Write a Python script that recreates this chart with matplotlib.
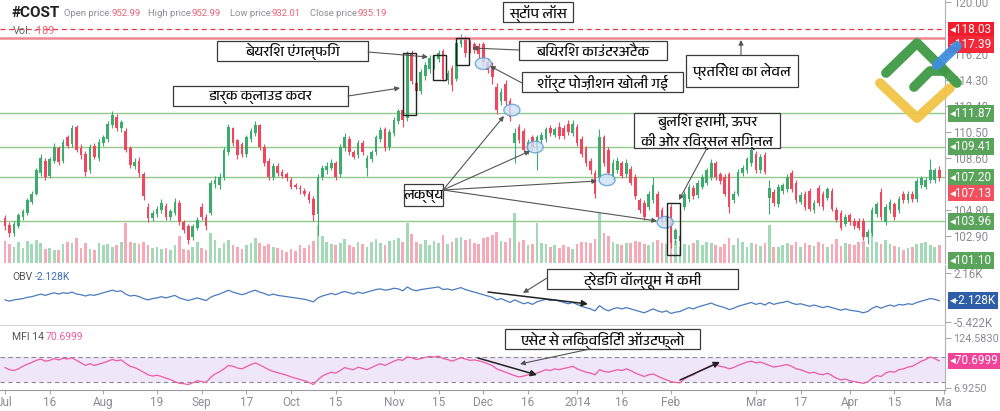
import matplotlib
matplotlib.use('Agg')
import matplotlib.pyplot as plt
import matplotlib.transforms as mtransforms
from matplotlib import font_manager
from matplotlib.patches import Rectangle, Ellipse

# ---- data (daily #COST, Jul 2013 - Apr 2014) ----
opens = [
    104.2, 103.7, 103.1, 103.6, 104.3, 104.6, 105.4, 106.0, 107.5, 108.4,
    107.3, 108.4, 109.3, 108.4, 110.1, 109.6, 110.9, 109.3, 108.9, 107.7,
    109.5, 108.6, 109.7, 110.0, 111.0, 111.6, 110.8, 110.6, 109.3, 108.0,
    108.4, 107.4, 105.0, 104.2, 104.5, 104.8, 105.1, 104.3, 104.6, 105.3,
    103.9, 103.6, 102.8, 103.5, 105.0, 104.3, 104.6, 106.7, 106.6, 107.2,
    109.0, 110.8, 109.9, 109.6, 108.9, 110.0, 110.4, 111.0, 109.4, 108.4,
    107.2, 108.0, 107.6, 107.4, 107.0, 106.6, 106.4, 106.2, 106.0, 105.6,
    104.5, 107.2, 107.7, 107.9, 108.2, 107.4, 109.3, 110.0, 109.0, 108.8,
    109.7, 107.9, 108.5, 109.0, 110.0, 110.7, 109.4, 110.4, 111.3, 112.1,
    111.5, 116.3, 114.1, 113.5, 114.6, 115.1, 115.3, 115.8, 116.4, 114.3,
    115.2, 114.4, 116.9, 117.3, 117.0, 116.9, 116.8, 116.9, 115.6, 115.3,
    113.8, 112.8, 114.0, 112.8, 109.7, 110.9, 110.6, 109.2, 110.1, 109.2,
    109.9, 110.0, 110.8, 110.3, 110.9, 110.8, 111.1, 110.4, 110.9, 110.0,
    109.3, 108.4, 107.5, 107.2, 110.1, 109.2, 107.2, 107.7, 108.2, 107.4,
    107.8, 107.2, 105.5, 105.3, 105.0, 105.5, 106.0, 104.8, 103.9, 105.0,
    102.7, 102.5, 105.0, 105.6, 106.4, 105.9, 106.5, 106.8, 107.2, 108.2,
    107.4, 107.2, 107.4, 105.5, 106.0, 107.5, 107.7, 108.2, 108.9, 107.7,
    108.8, 105.7, 106.1, 105.2, 106.2, 106.3, 107.5, 106.8, 105.4, 106.0,
    106.2, 104.8, 106.4, 106.0, 105.7, 106.2, 104.8, 104.6, 103.8, 104.4,
    104.0, 104.0, 104.0, 102.8, 103.1, 104.5, 106.1, 103.9, 104.8, 105.2,
    104.8, 106.0, 105.5, 106.0, 105.6, 106.6, 106.5, 107.0, 107.0, 107.7]
closes = [
    103.6, 103.1, 103.8, 104.4, 104.7, 105.5, 106.0, 107.7, 108.6, 107.2,
    108.5, 109.4, 108.3, 109.8, 109.5, 110.8, 109.2, 108.8, 107.6, 109.4,
    108.7, 109.8, 110.1, 111.1, 111.75, 110.8, 111.2, 109.2, 108.1, 108.3,
    107.5, 105.8, 104.2, 104.6, 104.9, 105.3, 104.3, 104.7, 105.4, 103.9,
    103.3, 102.6, 103.6, 104.1, 104.3, 103.6, 106.8, 107.0, 107.2, 109.2,
    110.9, 109.7, 108.8, 108.9, 110.1, 110.6, 111.0, 109.4, 108.2, 107.2,
    108.0, 107.5, 107.3, 107.1, 106.5, 106.5, 106.3, 106.0, 105.5, 104.4,
    107.2, 107.9, 108.0, 108.2, 107.2, 109.4, 110.1, 109.0, 108.7, 109.7,
    109.0, 108.6, 109.0, 110.1, 110.65, 109.3, 110.5, 111.4, 112.0, 111.4,
    116.2, 114.2, 113.5, 114.9, 115.4, 115.9, 115.9, 116.3, 114.4, 114.8,
    113.9, 117.0, 117.3, 116.3, 116.6, 116.5, 116.2, 115.6, 115.0, 114.5,
    112.1, 113.4, 112.8, 111.6, 110.4, 109.9, 109.2, 109.8, 109.4, 110.1,
    110.3, 110.7, 110.4, 110.7, 110.2, 110.2, 110.5, 111.1, 109.7, 108.9,
    108.2, 107.7, 106.0, 110.1, 108.2, 107.5, 108.2, 108.4, 107.3, 108.2,
    106.8, 105.8, 104.8, 104.3, 106.0, 106.6, 104.3, 103.9, 104.3, 102.4,
    103.3, 102.9, 106.0, 106.5, 105.8, 106.8, 107.2, 107.7, 108.2, 107.2,
    106.9, 106.0, 105.0, 106.0, 107.6, 107.9, 108.5, 109.2, 107.7, 108.7,
    107.6, 106.4, 105.3, 106.5, 106.6, 107.2, 106.3, 105.5, 105.9, 105.0,
    104.9, 105.3, 105.3, 105.0, 106.3, 104.9, 104.1, 103.5, 104.3, 103.9,
    103.6, 103.5, 102.8, 103.2, 104.8, 105.2, 104.3, 105.0, 105.4, 104.3,
    105.6, 105.5, 106.0, 105.6, 106.9, 107.1, 107.0, 107.7, 107.7, 107.13]
highs = [
    104.4, 103.9, 104.0, 104.6, 104.9, 105.7, 106.2, 107.9, 108.9, 108.6,
    108.7, 109.7, 109.5, 110.0, 110.3, 111.0, 111.0, 109.6, 109.1, 109.6,
    109.7, 110.0, 110.3, 111.3, 112.0, 111.8, 111.4, 110.8, 109.5, 108.6,
    108.7, 107.6, 105.3, 104.8, 105.1, 105.6, 105.3, 104.9, 105.7, 105.5,
    104.1, 103.8, 103.8, 104.3, 105.3, 104.5, 107.0, 107.3, 107.5, 109.4,
    111.1, 110.9, 110.0, 109.8, 110.3, 110.8, 111.3, 111.1, 109.6, 108.6,
    108.2, 108.2, 107.8, 107.6, 107.2, 106.8, 106.6, 106.4, 106.2, 105.8,
    107.4, 108.1, 108.3, 108.5, 108.4, 109.6, 110.4, 110.2, 109.2, 109.9,
    109.9, 108.8, 109.2, 110.3, 110.9, 110.9, 110.7, 111.6, 112.2, 112.3,
    116.4, 116.5, 114.4, 115.1, 115.6, 116.1, 116.1, 116.5, 116.6, 115.0,
    115.4, 117.2, 117.7, 117.5, 117.2, 117.1, 117.0, 117.1, 115.9, 115.6,
    114.1, 113.7, 114.3, 113.0, 110.8, 111.1, 110.8, 110.0, 110.3, 110.3,
    110.5, 110.9, 111.0, 110.9, 111.2, 111.0, 111.4, 111.4, 111.1, 110.2,
    109.5, 108.6, 107.7, 110.7, 110.3, 109.4, 108.5, 108.7, 108.4, 108.5,
    108.0, 107.4, 105.7, 105.5, 106.2, 107.2, 106.2, 105.0, 104.5, 105.2,
    103.5, 103.1, 106.2, 106.7, 106.6, 107.0, 107.4, 107.9, 108.5, 108.4,
    107.6, 107.4, 107.6, 106.2, 107.8, 108.1, 108.7, 109.6, 109.1, 108.9,
    109.0, 107.0, 106.3, 106.7, 106.8, 107.4, 107.7, 107.0, 106.1, 106.2,
    106.4, 105.5, 106.6, 106.2, 106.5, 106.4, 105.0, 104.8, 104.5, 104.6,
    104.2, 104.2, 104.2, 103.4, 105.0, 105.4, 106.4, 105.2, 105.6, 105.4,
    105.8, 106.2, 106.2, 106.2, 107.1, 107.3, 107.2, 108.5, 107.9, 108.0]
lows = [
    103.3, 102.8, 102.9, 103.5, 104.1, 104.4, 105.2, 105.9, 107.3, 107.0,
    107.1, 108.2, 108.1, 108.2, 109.3, 109.4, 109.0, 108.5, 107.3, 107.5,
    108.5, 108.4, 109.5, 109.8, 110.8, 110.6, 110.5, 109.0, 107.9, 107.8,
    107.2, 105.5, 103.9, 104.0, 104.3, 104.6, 104.1, 104.1, 104.4, 103.7,
    103.1, 102.3, 102.6, 103.3, 104.1, 103.3, 104.4, 106.4, 106.3, 107.0,
    108.8, 109.5, 108.5, 108.7, 108.7, 109.8, 110.2, 109.2, 108.0, 107.0,
    107.0, 107.3, 107.1, 106.9, 106.3, 106.3, 106.0, 105.8, 105.3, 104.0,
    103.0, 107.0, 107.4, 107.7, 107.0, 107.2, 109.1, 108.8, 108.5, 108.6,
    108.8, 107.3, 108.3, 108.8, 109.8, 109.1, 109.2, 110.2, 111.1, 110.9,
    111.3, 114.0, 113.2, 113.3, 114.3, 114.8, 115.1, 115.6, 114.2, 114.0,
    113.5, 114.2, 116.7, 116.0, 116.3, 116.3, 115.9, 115.3, 114.8, 114.0,
    111.8, 112.5, 112.5, 111.3, 108.2, 109.7, 109.0, 108.9, 109.2, 107.7,
    109.7, 109.8, 110.2, 110.1, 110.0, 110.0, 110.3, 110.2, 109.5, 108.7,
    108.0, 107.4, 105.7, 106.9, 108.0, 107.3, 107.0, 107.5, 107.1, 107.2,
    106.6, 105.6, 104.6, 104.1, 104.8, 105.3, 104.1, 103.7, 103.6, 102.0,
    102.3, 102.2, 104.8, 105.4, 105.6, 105.7, 106.3, 106.6, 107.0, 107.0,
    106.7, 105.8, 104.6, 105.3, 105.8, 107.3, 107.5, 108.0, 107.5, 107.5,
    107.4, 104.5, 105.1, 105.0, 106.0, 106.1, 106.1, 105.3, 105.2, 104.8,
    104.7, 104.6, 105.1, 104.8, 105.5, 104.7, 103.9, 103.3, 103.6, 103.7,
    103.4, 103.3, 102.6, 102.3, 102.9, 104.3, 104.1, 103.7, 104.6, 104.1,
    104.6, 105.3, 105.3, 105.4, 105.4, 106.4, 106.3, 106.8, 106.8, 106.9]
volumes = [
    3.5, 3.0, 2.6, 3.3, 2.4, 3.5, 3.0, 3.6, 3.2, 2.2,
    2.4, 2.0, 2.1, 3.0, 3.3, 3.2, 3.9, 2.4, 3.1, 2.2,
    2.0, 3.1, 2.8, 3.0, 2.6, 2.9, 3.4, 6.4, 3.4, 3.2,
    3.0, 3.3, 2.8, 2.4, 2.6, 2.2, 2.3, 2.0, 2.9, 4.3,
    2.2, 2.0, 2.6, 3.4, 2.3, 2.0, 4.8, 3.6, 2.4, 3.2,
    3.7, 2.9, 2.5, 2.2, 2.9, 3.1, 4.0, 3.2, 2.7, 3.0,
    2.5, 2.3, 2.0, 1.7, 2.2, 1.9, 2.8, 2.4, 2.9, 3.5,
    6.0, 4.3, 3.4, 3.0, 2.8, 3.2, 3.8, 2.9, 2.6, 3.4,
    3.0, 2.6, 3.3, 3.8, 3.1, 2.8, 3.5, 3.6, 3.9, 3.3,
    6.4, 4.6, 3.3, 3.0, 3.6, 2.8, 3.5, 3.2, 4.5, 3.0,
    3.3, 4.0, 4.2, 3.6, 3.8, 3.2, 3.0, 3.9, 4.2, 4.5,
    4.9, 3.5, 3.3, 4.0, 7.9, 3.3, 3.6, 2.9, 3.0, 6.4,
    3.2, 3.0, 2.6, 2.8, 2.3, 2.9, 2.5, 2.2, 3.0, 3.3,
    3.4, 3.1, 3.8, 7.9, 4.8, 4.3, 3.3, 3.0, 2.8, 3.1,
    3.2, 3.5, 3.3, 3.0, 2.9, 3.4, 3.6, 3.2, 3.0, 4.8,
    3.5, 2.6, 3.0, 2.8, 3.1, 3.6, 2.9, 3.4, 3.2, 2.9,
    2.6, 3.0, 3.9, 2.8, 4.0, 3.4, 2.6, 3.2, 3.0, 2.7,
    3.2, 6.0, 2.6, 2.5, 2.9, 3.2, 2.9, 3.4, 2.5, 3.2,
    2.9, 2.7, 3.3, 3.0, 2.6, 3.0, 3.8, 2.7, 3.2, 3.0,
    2.8, 3.3, 3.5, 2.6, 5.0, 3.3, 3.0, 3.6, 3.0, 2.7,
    2.6, 2.0, 2.3, 2.5, 3.0, 3.2, 3.4, 2.8, 2.5, 2.9]
obv = [
    -2.0, -2.2, -2.0, -1.9, -1.8, -1.6, -1.5, -1.3, -1.1, -1.3,
    -1.1, -0.9, -1.1, -0.9, -1.0, -0.8, -1.1, -1.2, -1.4, -1.2,
    -1.3, -1.1, -0.9, -0.7, -0.5, -0.7, -0.6, -1.1, -1.4, -1.3,
    -1.5, -1.8, -2.0, -1.8, -1.7, -1.5, -1.7, -1.5, -1.3, -1.7,
    -1.9, -2.1, -1.9, -1.7, -1.9, -2.1, -1.6, -1.3, -1.1, -0.8,
    -0.5, -0.8, -1.0, -1.2, -1.0, -0.7, -0.5, -0.8, -1.0, -1.3,
    -1.1, -1.3, -1.4, -1.5, -1.6, -1.7, -1.8, -1.9, -2.1, -2.3,
    -1.7, -1.4, -1.2, -1.0, -1.2, -0.9, -0.7, -0.9, -1.1, -0.8,
    -1.0, -0.8, -0.6, -0.4, -0.3, -0.5, -0.4, -0.2, -0.3, -0.6,
    0.0, -0.4, -0.6, -0.4, -0.3, -0.2, -0.1, 0.0, -0.4, -0.3,
    -0.5, -0.3, -0.1, -0.4, -0.6, -0.8, -1.0, -1.2, -1.4, -1.6,
    -2.0, -1.8, -2.1, -2.4, -2.0, -2.3, -2.6, -2.4, -2.7, -2.3,
    -2.1, -1.9, -2.1, -2.0, -2.2, -2.4, -2.6, -2.4, -2.7, -3.0,
    -3.2, -3.4, -3.7, -2.9, -3.4, -3.7, -3.4, -3.2, -3.4, -3.2,
    -3.4, -3.6, -3.8, -4.0, -3.7, -3.4, -3.7, -3.9, -3.7, -4.1,
    -3.9, -3.8, -3.5, -3.2, -3.4, -3.1, -2.9, -2.7, -2.5, -2.8,
    -3.0, -3.2, -3.5, -3.3, -3.0, -2.8, -2.6, -2.4, -2.7, -2.5,
    -2.8, -2.4, -2.7, -2.5, -2.4, -2.2, -2.5, -2.7, -2.6, -2.8,
    -3.0, -2.8, -3.0, -3.2, -3.0, -3.2, -3.4, -3.6, -3.4, -3.6,
    -3.7, -3.8, -4.0, -3.8, -3.3, -3.0, -3.3, -3.0, -2.8, -3.0,
    -2.7, -2.8, -2.6, -2.7, -2.4, -2.2, -2.0, -1.8, -1.9, -2.128]
mfi = [
    55, 50, 48, 52, 58, 63, 67, 72, 75, 70,
    72, 76, 73, 77, 75, 78, 72, 66, 60, 64,
    60, 63, 66, 70, 74, 71, 73, 65, 58, 55,
    50, 44, 38, 35, 37, 34, 30, 27, 22, 18,
    17, 15, 19, 24, 22, 20, 32, 40, 45, 52,
    60, 58, 54, 52, 57, 62, 66, 61, 56, 50,
    46, 43, 40, 37, 33, 30, 27, 24, 20, 15,
    26, 35, 40, 44, 42, 48, 55, 52, 50, 56,
    53, 50, 55, 60, 64, 60, 65, 70, 74, 72,
    80, 78, 74, 76, 79, 81, 80, 82, 76, 74,
    70, 74, 78, 75, 72, 73, 71, 68, 64, 60,
    52, 48, 44, 40, 36, 33, 35, 38, 37, 42,
    46, 50, 48, 52, 50, 53, 55, 58, 52, 48,
    44, 42, 38, 50, 46, 44, 47, 50, 48, 52,
    48, 42, 38, 34, 38, 40, 35, 30, 26, 22,
    20, 19, 28, 34, 38, 45, 50, 55, 60, 62,
    58, 56, 52, 55, 60, 64, 68, 70, 66, 68,
    64, 60, 56, 58, 60, 62, 58, 52, 50, 46,
    42, 44, 40, 38, 42, 36, 30, 26, 28, 24,
    22, 20, 18, 21, 30, 36, 34, 42, 46, 44,
    50, 52, 56, 58, 64, 70, 74, 80, 76, 70.6999]

tick_pos = [0, 10, 22, 34, 44, 54, 64, 74, 87, 97, 107, 117, 128, 138, 149, 168, 178, 189, 199, 210]
tick_lab = ['Jul', '16', 'Aug', '19', 'Sep', '17', 'Oct', '15', 'Nov', '15', 'Dec', '16',
            '2014', '16', 'Feb', 'Mar', '17', 'Apr', '15', 'Ma']
price_ticks = [120.0, 116.2, 114.3, 112.4, 110.5, 108.6, 104.8, 102.9]
support_levels = [111.87, 109.41, 107.20, 103.96]
stop_loss = 118.03
resistance = 117.39
last_close = 107.13
vol_level = 101.10


def find_devanagari():
    try:
        from fontTools.ttLib import TTFont
    except ImportError:
        return None
    paths = sorted(font_manager.findSystemFonts(), key=lambda p: ('Devanagari' not in p, p))
    for p in paths:
        try:
            cmap = TTFont(p, fontNumber=0, lazy=True).getBestCmap() or {}
            if 0x0915 in cmap and 0x093F in cmap:
                font_manager.fontManager.addfont(p)
                return font_manager.FontProperties(fname=p).get_name()
        except Exception:
            continue
    return None


plt.rcParams['font.family'] = ['Roboto', 'DejaVu Sans']
deva = find_devanagari()
HFAM = [deva, 'DejaVu Sans'] if deva else ['DejaVu Sans']

GREEN = '#3dab6b'
RED = '#f0465e'
VGREEN = '#a3d9b6'
VRED = '#f6a9b6'
LINEG = '#93c98f'
GREY = '#8c8c96'

W, H = 1000, 411
fig = plt.figure(figsize=(10, 4.11), dpi=100)


def frame(l, t, r, b):
    return [l / W, 1 - b / H, (r - l) / W, (b - t) / H]


ax = fig.add_axes(frame(0, 0, 945, 263))
axv = ax.twinx()
axo = fig.add_axes(frame(0, 265, 945, 325))
axm = fig.add_axes(frame(0, 326, 945, 390))

n = len(closes)
idx = list(range(n))
up = [c >= o for o, c in zip(opens, closes)]

# volume behind candles
axv.bar(idx, volumes, width=0.6, color=[VGREEN if u else VRED for u in up], linewidth=0)
axv.set_ylim(0, 41.7)
axv.set_yticks([])
for s in axv.spines.values():
    s.set_visible(False)
ax.set_zorder(axv.get_zorder() + 1)
ax.patch.set_visible(False)

# candles
cols = [GREEN if u else RED for u in up]
ax.vlines(idx, lows, highs, colors=cols, linewidth=0.8)
ax.bar(idx, [max(abs(c - o), 0.06) for o, c in zip(opens, closes)],
       bottom=[min(o, c) for o, c in zip(opens, closes)], width=0.6, color=cols, linewidth=0)

for lv in support_levels:
    ax.axhline(lv, color=LINEG, lw=1.0, zorder=0)
ax.axhline(stop_loss, color='#e8344c', lw=0.9, ls=(0, (4, 3)))
ax.axhline(resistance, color='#ef8893', lw=1.8)

ax.set_xlim(-1.12, 210.3)
ax.set_ylim(100.92, 120.15)
ax.yaxis.tick_right()
ax.set_yticks(price_ticks)
ax.set_yticklabels(['%.2f' % v for v in price_ticks])

for a in (ax, axo, axm):
    a.set_xlim(-1.12, 210.3)
    a.tick_params(axis='y', colors='#aaaaaa', labelcolor=GREY, labelsize=8.3, length=4, pad=2,
                  right=True, left=False)
    a.tick_params(axis='x', colors='#aaaaaa', labelcolor=GREY, labelsize=8.5, length=3, pad=1)
    for side in ('left', 'top'):
        a.spines[side].set_visible(False)
    a.spines['right'].set_color('#b0b0b8')
    a.spines['bottom'].set_color('#d0d0d6')
    a.set_xticks(tick_pos)
ax.set_xticklabels([])
ax.tick_params(axis='x', length=0)
ax.spines['bottom'].set_visible(False)
axo.set_xticklabels([])
axo.tick_params(axis='x', length=0)

# OBV panel
axo.plot(idx, obv, color='#4a7bbf', lw=0.9)
axo.set_ylim(-5.89, 3.4)
axo.yaxis.tick_right()
axo.set_yticks([2.16, -5.422])
axo.set_yticklabels(['2.16K', '-5.422K'])

# MFI panel
axm.axhspan(20, 80, color='#efe6fa', lw=0)
axm.axhline(80, color='#8a8a96', lw=0.8, ls=(0, (4, 3)))
axm.axhline(20, color='#8a8a96', lw=0.8, ls=(0, (4, 3)))
axm.plot(idx, mfi, color='#ee5aa4', lw=0.9)
axm.set_ylim(2.2, 152.8)
axm.yaxis.tick_right()
axm.set_yticks([124.583, 6.925])
axm.set_yticklabels(['124.5830', '6.9250'])
axm.tick_params(axis='y', labelsize=7.8)
axm.set_xticklabels(tick_lab)
axm.spines['bottom'].set_color('#9a9aa4')


def tag(a, val, text, color, dy=0):
    tr = mtransforms.blended_transform_factory(a.transAxes, a.transData)
    if dy:
        tr = mtransforms.offset_copy(tr, fig=fig, y=-dy, units='dots')
    a.text(1.005, val, '\u25C2' + text, transform=tr, ha='left', va='center', color='white',
           fontsize=8.5, clip_on=False, zorder=20,
           bbox=dict(boxstyle='square,pad=0.16', fc=color, ec='none'))


tag(ax, stop_loss, '118.03', '#f21c2c', dy=1)
tag(ax, resistance, '117.39', '#f02a38', dy=7)
for lv in support_levels:
    tag(ax, lv, '%.2f' % lv, '#5aa35a')
tag(ax, last_close, '107.13', '#f2505f', dy=15)
tag(ax, vol_level, '101.10', '#5aa35a')
tag(axo, obv[-1], '-2.128K', '#2f5ea8')
tag(axm, mfi[-1], '70.6999', '#f0449a')

# circles and pattern boxes on the price chart
for cx, cy in [(107, 115.5), (113.4, 112.1), (118.6, 109.4), (134.7, 107.0), (147.7, 103.9)]:
    ax.add_patch(Ellipse((cx, cy), 3.6, 0.85, fc='#cfe3f7', ec='#5b9bd5', lw=1.0, alpha=0.8, zorder=5))
for x0, x1, y0, y1 in [(89.0, 91.9, 111.74, 116.27), (95.7, 98.7, 114.3, 116.13),
                       (100.9, 103.8, 115.4, 117.4), (148.1, 151.0, 101.5, 105.31)]:
    ax.add_patch(Rectangle((x0, y0), x1 - x0, y1 - y0, fill=False, ec='#222222', lw=1.0, zorder=6))

# overlay in pixel coordinates for notes, header and logo
ov = fig.add_axes([0, 0, 1, 1], zorder=30)
ov.set_xlim(0, W)
ov.set_ylim(H, 0)
ov.axis('off')
ov.patch.set_visible(False)


def note(l, t, r, b, text, fs=10.5):
    ov.add_patch(Rectangle((l, t), r - l, b - t, fc='white', ec='#3a3a3a', lw=0.9))
    ov.text((l + r) / 2, (t + b) / 2 + 1, text, ha='center', va='center', fontsize=fs,
            family=HFAM, color='#111111', linespacing=1.25)


def arrow(p0, p1, color='#555555', lw=0.8, ms=7):
    ov.annotate('', xy=p1, xytext=p0,
                arrowprops=dict(arrowstyle='-|>', color=color, lw=lw, mutation_scale=ms,
                                shrinkA=0, shrinkB=0))


note(503, 2, 573, 22, 'स्टॉप लॉस')
note(217, 41, 368, 61, 'बेयरिश एंगल्फिंग')
note(173, 86, 348, 106, 'डार्क क्लाउड कवर')
note(519, 41, 667, 60, 'बियरिश काउंटरअटैक')
note(522, 72, 683, 92, 'शॉर्ट पोज़ीशन खोली गई')
note(686, 55, 798, 87, 'प्रतिरोध का लेवल')
note(404, 184, 443, 206, 'लक्ष्य')
note(634, 113, 780, 148, 'बुलिश हरामी, ऊपर\nकी ओर रिवर्सल सिग्नल')
note(547, 269, 738, 289, 'ट्रेडिंग वॉल्यूम में कमी')
note(505, 329, 700, 349, 'एसेट से लिक्विडिटी ऑउटफ़्लो')

arrow((368, 52), (428, 57))
arrow((348, 96), (400, 88))
arrow((519, 50), (472, 48))
arrow((522, 83), (490, 66))
arrow((741, 55), (741, 40))
for end in [(504, 116), (530, 151), (597, 181), (657, 221)]:
    arrow((443, 190), end)
arrow((707, 148), (679, 200))
arrow((547, 278), (523, 293))
arrow((488, 292), (588, 304), color='#222222', lw=1.1, ms=9)
arrow((590, 349), (520, 364))
arrow((478, 358), (537, 375), color='#222222', lw=1.1, ms=9)
arrow((680, 380), (720, 362), color='#222222', lw=1.1, ms=9)

# header
ov.text(12, 13, '#COST', fontsize=11, fontweight='bold', color='#222222', va='center')
for lx, lab, vx, val in [(64, 'Open price:', 111, '952.99'), (148, 'High price:', 191, '952.99'),
                         (230, 'Low price:', 271, '932.01'), (310, 'Close price:', 358, '935.19')]:
    ov.text(lx, 14, lab, fontsize=6.8, color=GREY, va='center')
    ov.text(vx, 14, val, fontsize=6.8, color='#ee6172', va='center')
ov.text(13, 31, 'Vol.', fontsize=7.8, color='#666666', va='center')
ov.text(34, 31, '-189', fontsize=7.8, color='#ee6172', va='center')
ov.text(12, 277, 'OBV', fontsize=7.5, color='#555555', va='center')
ov.text(35, 277, '-2.128K', fontsize=7.5, color='#3b6cb5', va='center')
ov.text(12, 337, 'MFI 14', fontsize=7.5, color='#555555', va='center')
ov.text(46, 337, '70.6999', fontsize=7.5, color='#ee5aa4', va='center')

# watermark logo
ov.plot([880, 917, 950], [83, 118, 88], color='#f2c445', lw=7, solid_capstyle='round',
        solid_joinstyle='round', alpha=0.95)
ov.plot([886, 917, 957], [73, 43, 83], color='#3f9a45', lw=7, solid_capstyle='round',
        solid_joinstyle='round', alpha=0.95)
ov.plot([914, 930, 944], [87, 71, 71], color='#3f9a45', lw=7, solid_capstyle='round',
        solid_joinstyle='round', alpha=0.95)
ov.plot([937, 957], [65, 46], color='#3f8fe0', lw=7, solid_capstyle='round', alpha=0.95)

fig.savefig('out.png', dpi=100)
